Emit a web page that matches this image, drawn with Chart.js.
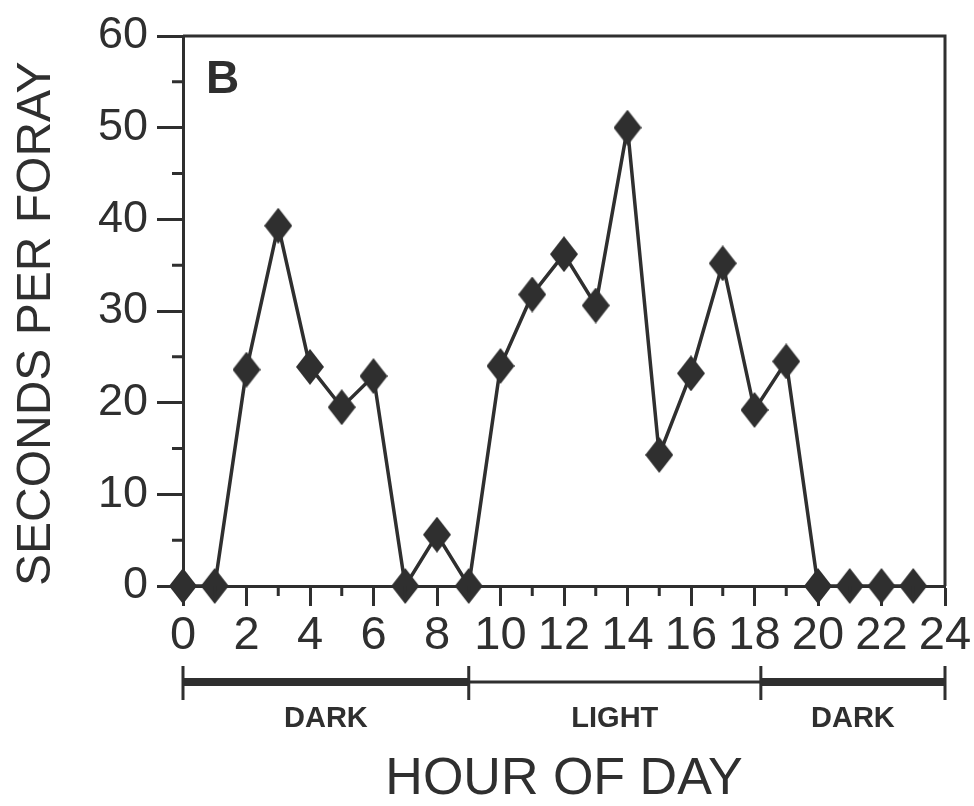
<!DOCTYPE html>
<html>
<head>
<meta charset="utf-8">
<script src="https://cdn.jsdelivr.net/npm/chart.js@4.4.1/dist/chart.umd.min.js"></script>
<style>
  body { margin: 0; background: #fff; }
  #wrap { width: 974px; height: 806px; }
</style>
</head>
<body>
<div id="wrap"><canvas id="foraySecondsChart" width="974" height="806"></canvas></div>
<script>
// Foray duration by hour of day (panel B)
const hours = [0, 1, 2, 3, 4, 5, 6, 7, 8, 9, 10, 11, 12, 13, 14, 15, 16, 17, 18, 19, 20, 21, 22, 23];
const secondsPerForay = [0, 0, 23.6, 39.3, 23.9, 19.5, 22.9, 0, 5.6, 0, 24.0, 31.8, 36.2, 30.6, 50.0, 14.3, 23.2, 35.2, 19.2, 24.5, 0, 0, 0, 0];
const yMinorTicks = [5, 15, 25, 35, 45, 55];
const xMinorTicks = [1, 3, 5, 7, 9, 11, 13, 15, 17, 19, 21, 23];
const phaseBounds = [0, 9, 18.2, 24];
const phaseNames = ['DARK', 'LIGHT', 'DARK'];

const ink = '#2f2f2f';

// diamond marker, a bit taller than wide
const diamond = document.createElement('canvas');
diamond.width = 28;
diamond.height = 36;
const dctx = diamond.getContext('2d');
dctx.fillStyle = ink;
dctx.beginPath();
dctx.moveTo(14, 0);
dctx.lineTo(28, 18);
dctx.lineTo(14, 36);
dctx.lineTo(0, 18);
dctx.closePath();
dctx.fill();

const decor = {
    id: 'decor',
    afterDraw(chart) {
        const ctx = chart.ctx;
        const area = chart.chartArea;
        const x = chart.scales.x;
        const y = chart.scales.y;
        ctx.save();
        ctx.strokeStyle = ink;
        ctx.fillStyle = ink;
        ctx.lineWidth = 3;

        // frame top + right
        ctx.beginPath();
        ctx.moveTo(area.left, area.top);
        ctx.lineTo(area.right, area.top);
        ctx.lineTo(area.right, area.bottom);
        ctx.stroke();

        // minor ticks
        ctx.beginPath();
        yMinorTicks.forEach(v => {
            const py = y.getPixelForValue(v);
            ctx.moveTo(area.left - 11, py);
            ctx.lineTo(area.left, py);
        });
        xMinorTicks.forEach(v => {
            const px = x.getPixelForValue(v);
            ctx.moveTo(px, area.bottom);
            ctx.lineTo(px, area.bottom + 10);
        });
        ctx.stroke();

        // light / dark bar
        const barY = 682;
        for (let i = 0; i < phaseNames.length; i++) {
            const x0 = x.getPixelForValue(phaseBounds[i]);
            const x1 = x.getPixelForValue(phaseBounds[i + 1]);
            ctx.lineWidth = phaseNames[i] === 'DARK' ? 8 : 3;
            ctx.beginPath();
            ctx.moveTo(x0, barY);
            ctx.lineTo(x1, barY);
            ctx.stroke();
            ctx.font = 'bold 29px "Liberation Sans", Arial, sans-serif';
            ctx.textAlign = 'center';
            ctx.textBaseline = 'middle';
            ctx.fillText(phaseNames[i], (x0 + x1) / 2, 719);
        }
        ctx.lineWidth = 3;
        ctx.beginPath();
        phaseBounds.forEach(v => {
            const px = x.getPixelForValue(v);
            ctx.moveTo(px, barY - 16);
            ctx.lineTo(px, barY + 18);
        });
        ctx.stroke();

        // panel letter
        ctx.font = 'bold 46px "Liberation Sans", Arial, sans-serif';
        ctx.textAlign = 'left';
        ctx.textBaseline = 'alphabetic';
        ctx.fillText('B', area.left + 23, area.top + 57);
        ctx.restore();
    }
};

new Chart(document.getElementById('foraySecondsChart'), {
    type: 'line',
    data: {
        datasets: [{
            data: hours.map((h, i) => ({ x: h, y: secondsPerForay[i] })),
            borderColor: ink,
            borderWidth: 3.5,
            pointStyle: diamond,
            pointRadius: 14,
            tension: 0,
            clip: false
        }]
    },
    options: {
        responsive: false,
        animation: false,
        layout: {
            padding: { top: 26, right: 29, left: 0, bottom: 0 }
        },
        plugins: {
            legend: { display: false },
            tooltip: { enabled: false }
        },
        scales: {
            x: {
                type: 'linear',
                min: 0,
                max: 24,
                ticks: {
                    stepSize: 2,
                    padding: 2,
                    autoSkip: false,
                    maxRotation: 0,
                    color: ink,
                    font: { family: '"Liberation Sans Narrow", "Liberation Sans", Arial, sans-serif', size: 47 }
                },
                grid: { drawOnChartArea: false, tickLength: 20, tickWidth: 3, tickColor: ink },
                border: { color: ink, width: 3 },
                title: {
                    display: true,
                    text: 'HOUR OF DAY',
                    color: ink,
                    padding: { top: 0, bottom: 0 },
                    font: { family: '"Liberation Sans", Arial, sans-serif', size: 52, lineHeight: 1.0 }
                },
                afterFit: s => { s.height = 220; }
            },
            y: {
                min: 0,
                max: 60,
                ticks: {
                    stepSize: 10,
                    padding: 9,
                    color: ink,
                    font: { family: '"Liberation Sans", Arial, sans-serif', size: 45 }
                },
                grid: { drawOnChartArea: false, tickLength: 26, tickWidth: 3, tickColor: ink },
                border: { color: ink, width: 3 },
                title: {
                    display: true,
                    text: 'SECONDS PER FORAY',
                    align: 'start',
                    color: ink,
                    padding: { top: 8, bottom: 0 },
                    font: { family: '"Liberation Sans", Arial, sans-serif', size: 48 }
                },
                afterFit: s => { s.width = 183; }
            }
        }
    },
    plugins: [decor]
});
</script>
</body>
</html>
